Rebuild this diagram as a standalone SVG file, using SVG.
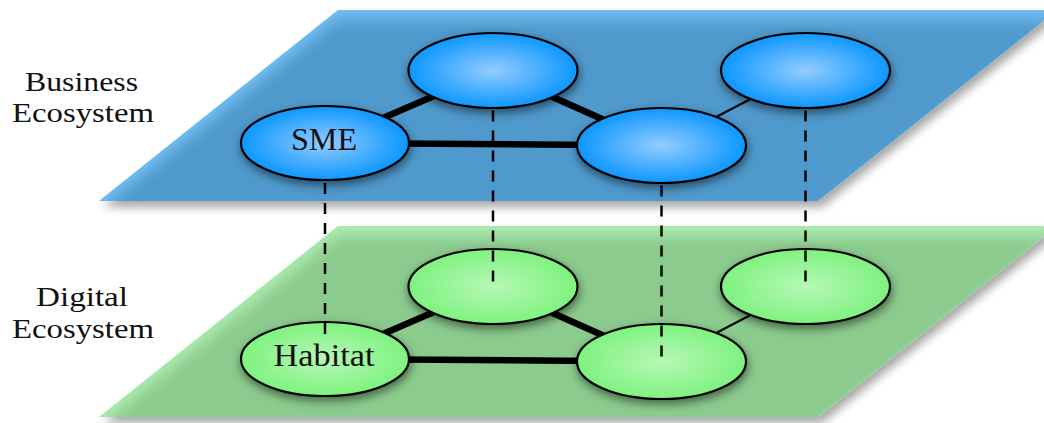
<svg xmlns="http://www.w3.org/2000/svg" width="1044" height="423" viewBox="0 0 1044 423">
<style>
  .lbl{font-family:"Liberation Serif","DejaVu Serif",serif;font-size:28px;fill:#111;text-anchor:middle}
  .ntx{font-family:"Liberation Serif","DejaVu Serif",serif;font-size:31px;fill:#111;text-anchor:middle}
  .thick{stroke:#000;stroke-width:6.5;fill:none}
  .thin{stroke:#000;stroke-width:2.2;fill:none}
  .dash{stroke:#000;stroke-width:2.5;stroke-dasharray:11 9;fill:none}
  .nb{fill:url(#gB);stroke:#000;stroke-width:2.2;filter:url(#nodeShadow)}
  .ng{fill:url(#gG);stroke:#000;stroke-width:2.2;filter:url(#nodeShadow)}
</style>
<defs>
  <radialGradient id="gB" cx="50%" cy="50%" r="50%">
    <stop offset="0" stop-color="#94ccff"/>
    <stop offset="1" stop-color="#0c97ff"/>
  </radialGradient>
  <radialGradient id="gG" cx="50%" cy="50%" r="50%">
    <stop offset="0" stop-color="#b6f8b6"/>
    <stop offset="1" stop-color="#7ff27f"/>
  </radialGradient>
  <filter id="nodeShadow" x="-30%" y="-40%" width="160%" height="190%">
    <feDropShadow dx="1" dy="4" stdDeviation="5" flood-color="#000" flood-opacity="0.5"/>
  </filter>
  <filter id="planeShadow" x="-10%" y="-20%" width="125%" height="150%">
    <feDropShadow dx="4" dy="6" stdDeviation="5" flood-color="#000" flood-opacity="0.35"/>
  </filter>
  <filter id="inner" x="-10%" y="-30%" width="120%" height="160%">
    <feGaussianBlur stdDeviation="7"/>
  </filter>
  <clipPath id="clipB"><polygon points="338,10 1057,10 818,201 99,201"/></clipPath>
  <clipPath id="clipG"><polygon points="338,226 1057,226 818,417 99,417"/></clipPath>
</defs>

<!-- Digital plane -->
<g id="digital-plane">
  <polygon points="338,226 1057,226 818,417 99,417" fill="#aeeab0" filter="url(#planeShadow)"/>
  <g clip-path="url(#clipG)">
    <polygon points="338,226 1057,226 818,417 99,417" transform="translate(0,10)" fill="#8bcb8d" filter="url(#inner)"/>
  </g>
</g>

<g id="digital-connectors">
  <line class="thick" x1="325" y1="359" x2="493" y2="286.5"/>
  <line class="thick" x1="493" y1="286.5" x2="661.5" y2="361.5"/>
  <line class="thick" x1="325" y1="359" x2="661.5" y2="361.5"/>
  <line class="thin" x1="661.5" y1="361.5" x2="805.5" y2="286.5"/>
</g>

<g id="g-top-mid"><ellipse class="ng" cx="493" cy="286.5" rx="84.5" ry="37.5"/></g>
<g id="g-top-right"><ellipse class="ng" cx="805.5" cy="286.5" rx="84.5" ry="37.5"/></g>
<g id="g-bottom-mid"><ellipse class="ng" cx="661.5" cy="361.5" rx="84.5" ry="37.5"/></g>
<g id="habitat"><ellipse class="ng" cx="325" cy="359" rx="84" ry="37"/>
  <text class="ntx" x="324" y="366" textLength="101" lengthAdjust="spacingAndGlyphs">Habitat</text></g>

<!-- Business plane -->
<g id="business-plane">
  <polygon points="338,10 1057,10 818,201 99,201" fill="#72bdf1" filter="url(#planeShadow)"/>
  <g clip-path="url(#clipB)">
    <polygon points="338,10 1057,10 818,201 99,201" transform="translate(0,10)" fill="#4f99cc" filter="url(#inner)"/>
  </g>
</g>

<g id="inter-layer-connectors">
  <line class="dash" x1="325" y1="143" x2="325" y2="343"/>
  <line class="dash" x1="493" y1="70.5" x2="493" y2="287"/>
  <line class="dash" x1="661.5" y1="145.5" x2="661.5" y2="360"/>
  <line class="dash" x1="805.5" y1="70.5" x2="805.5" y2="288"/>
</g>

<g id="business-connectors">
  <line class="thick" x1="325" y1="143" x2="493" y2="70.5"/>
  <line class="thick" x1="493" y1="70.5" x2="661.5" y2="145.5"/>
  <line class="thick" x1="325" y1="143" x2="661.5" y2="145.5"/>
  <line class="thin" x1="661.5" y1="145.5" x2="805.5" y2="70.5"/>
</g>

<g id="b-top-mid"><ellipse class="nb" cx="493" cy="70.5" rx="84.5" ry="37.5"/></g>
<g id="b-top-right"><ellipse class="nb" cx="805.5" cy="70.5" rx="84.5" ry="37.5"/></g>
<g id="b-bottom-mid"><ellipse class="nb" cx="661.5" cy="145.5" rx="84.5" ry="37.5"/></g>
<g id="sme"><ellipse class="nb" cx="325" cy="143" rx="84" ry="37"/>
  <text class="ntx" x="324" y="150" textLength="66" lengthAdjust="spacingAndGlyphs">SME</text></g>

<g id="labels">
  <text class="lbl" x="81.5" y="91" textLength="113" lengthAdjust="spacingAndGlyphs">Business</text>
  <text class="lbl" x="83" y="122" textLength="142" lengthAdjust="spacingAndGlyphs">Ecosystem</text>
  <text class="lbl" x="82" y="306" textLength="92" lengthAdjust="spacingAndGlyphs">Digital</text>
  <text class="lbl" x="83" y="338" textLength="142" lengthAdjust="spacingAndGlyphs">Ecosystem</text>
</g>
</svg>
